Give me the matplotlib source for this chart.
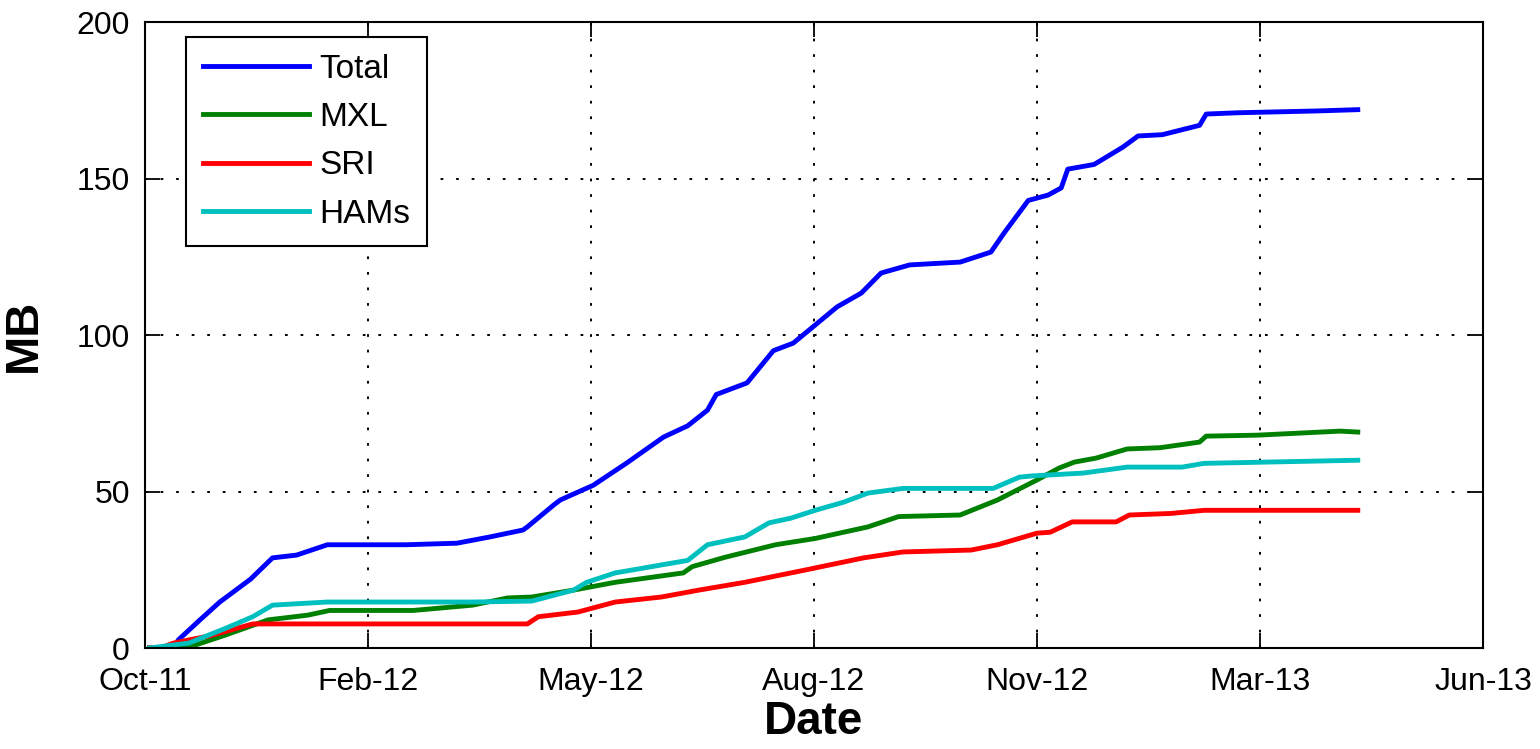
#### Cumulative data volume per source (MB) vs date ####

import matplotlib.pyplot as plt
import numpy as np

plt.rcParams['font.family'] = ['Liberation Sans', 'DejaVu Sans']

# x values are days since 1 Oct 2011
total_days = [2, 14, 15, 25, 34, 48, 58, 69, 83, 119, 142, 157, 172, 174, 186, 189, 204, 219, 236, 247,
              256, 260, 274, 286, 295, 304, 315, 326, 335, 348, 371, 385, 391, 402, 411, 417, 420, 432,
              445, 452, 463, 480, 483, 497, 534, 552]
total_mb = [0, 0, 2.5, 9, 14.7, 22, 28.8, 29.7, 33, 33, 33.5, 35.5, 37.7, 38.7, 45.7, 47.3, 52, 59, 67.4, 71,
            76, 81, 84.7, 95, 97.4, 102.6, 109, 113.4, 119.8, 122.4, 123.3, 126.5, 132.6, 143, 144.7, 147, 153,
            154.5, 160, 163.6, 164, 167, 170.6, 171, 171.6, 172]

mxl_days = [2, 20, 36, 56, 74, 84, 122, 149, 165, 176, 195, 214, 245, 249, 264, 287, 305, 329, 343, 371,
            388, 406, 416, 423, 433, 447, 462, 480, 483, 506, 544, 552]
mxl_mb = [0, 0.3, 4, 9, 10.5, 12, 12, 13.7, 16, 16.3, 18.5, 21, 24, 26, 29, 33, 35, 38.7, 42, 42.5,
          47.3, 53.7, 57.5, 59.4, 60.7, 63.6, 64, 65.8, 67.7, 68, 69.3, 69]

sri_days = [2, 7, 13, 30, 49, 174, 179, 197, 214, 235, 252, 273, 301, 327, 345, 376, 388, 406, 412, 422,
            442, 448, 467, 482, 552]
sri_mb = [0, 0, 1.6, 4, 7.7, 7.7, 10, 11.5, 14.7, 16.3, 18.5, 21, 25, 28.8, 30.7, 31.3, 33, 36.7, 37, 40.3,
          40.3, 42.5, 43, 44, 44]

hams_days = [2, 20, 37, 49, 58, 83, 149, 176, 195, 201, 214, 247, 256, 273, 284, 294, 305, 318, 329, 345,
             386, 398, 404, 427, 447, 472, 482, 552]
hams_mb = [0, 1.6, 6.4, 10, 13.7, 14.7, 14.7, 15, 18.5, 21, 24, 28, 33, 35.5, 40, 41.5, 44, 46.6, 49.5, 51,
           51, 54.6, 55, 55.9, 57.8, 57.8, 59, 60]

tick_labels = ['Oct-11', 'Feb-12', 'May-12', 'Aug-12', 'Nov-12', 'Mar-13', 'Jun-13']
x_end = 609

fig = plt.figure(figsize=(15.4, 7.49), dpi=100)
ax = fig.add_axes([0.0942, 0.1348, 0.8688, 0.8358])

ax.plot(total_days, total_mb, c=(0, 0, 1), lw=3.5, label='Total')
ax.plot(mxl_days, mxl_mb, c=(0, 0.5, 0), lw=3.5, label='MXL')
ax.plot(sri_days, sri_mb, c=(1, 0, 0), lw=3.5, label='SRI')
ax.plot(hams_days, hams_mb, c=(0, 0.75, 0.75), lw=3.5, label='HAMs')

ax.set_xlim(0, x_end)
ax.set_ylim(0, 200)
ax.set_xticks(np.linspace(0, x_end, len(tick_labels)))
ax.set_xticklabels(tick_labels)
ax.set_yticks([0, 50, 100, 150, 200])

ax.tick_params(direction='in', length=11, width=1.3, top=True, right=True,
               labelsize=23, pad=11, colors='black')
ax.tick_params(axis='x', pad=14)
for s in ax.spines.values():
    s.set_linewidth(1.5)

ax.grid(True, color='black', linestyle=(0, (1.4, 6.6)), linewidth=1.4)

ax.set_xlabel('Date', fontsize=33, fontweight='bold', labelpad=2)
ax.set_ylabel('MB', fontsize=34, fontweight='bold', labelpad=22)

leg = ax.legend(loc='upper left', bbox_to_anchor=(0.0306, 0.976), borderaxespad=0,
                fontsize=24, fancybox=False, shadow=False, framealpha=1,
                edgecolor='black', handlelength=3.2, handletextpad=0.3,
                labelspacing=0.52, borderpad=0.5)
leg.get_frame().set_linewidth(1.5)

fig.savefig('out.png', dpi=100)
